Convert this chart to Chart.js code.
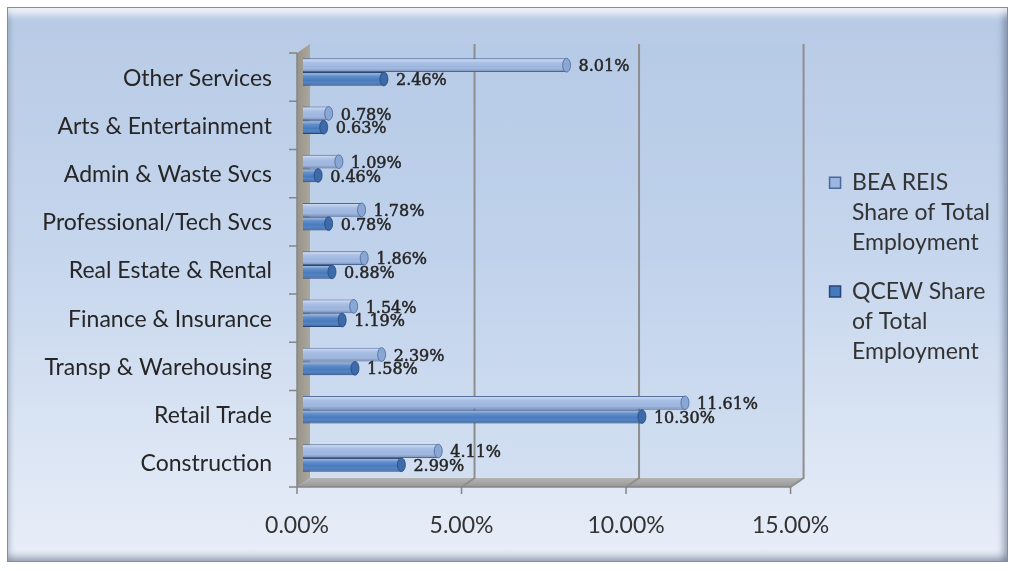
<!DOCTYPE html>
<html lang="en">
<head>
  <meta charset="UTF-8">
  <title>Share of Total Employment by Industry</title>
  <script src="https://cdn.jsdelivr.net/npm/chart.js"></script>
  <style>
    body {
      margin: 0;
      padding: 0;
      background: #fff;
    }

    .wrap {
      position: relative;
      width: 1010px;
      height: 571px;
    }

    .panel {
      position: absolute;
      left: 7px;
      top: 7px;
      width: 999px;
      height: 553px;
      border: 1px solid #8c8c8c;
      background: linear-gradient(to bottom, #b7cae5 0%, #c6d6ed 45%, #e8eef8 100%);
      box-shadow:
        inset 0 12px 8px -6px rgba(255, 255, 255, 0.85),
        inset -7px 0 6px -3px rgba(70, 85, 110, 0.45),
        inset 0 -8px 6px -3px rgba(70, 85, 110, 0.4),
        inset 5px 0 5px -3px rgba(70, 85, 110, 0.25);
    }

    canvas {
      position: absolute;
      left: 0;
      top: 0;
    }
  </style>
</head>
<body>
  <div class="wrap">
    <div class="panel"></div>
    <canvas id="shareChart" width="1010" height="571"></canvas>
  </div>

  <script>
    const categories = [
      'Other Services',
      'Arts & Entertainment',
      'Admin & Waste Svcs',
      'Professional/Tech Svcs',
      'Real Estate & Rental',
      'Finance & Insurance',
      'Transp & Warehousing',
      'Retail Trade',
      'Construction'
    ];
    const beaShare = [8.01, 0.78, 1.09, 1.78, 1.86, 1.54, 2.39, 11.61, 4.11];
    const qcewShare = [2.46, 0.63, 0.46, 0.78, 0.88, 1.19, 1.58, 10.30, 2.99];
    const seriesNames = ['BEA REIS Share of Total Employment', 'QCEW Share of Total Employment'];
    const legendLines = [
      ['BEA REIS', 'Share of Total', 'Employment'],
      ['QCEW Share', 'of Total', 'Employment']
    ];
    const axisMin = 0, axisMax = 15, axisStep = 5;

    // depth of the fake 3D box, relative to the plane the bars sit in
    const FRONT = { dx: -6, dy: 5 };
    const BACK = { dx: 7, dy: -4 };

    const pct = v => v.toFixed(2) + '%';

    // walls, floor and axis lines of the 3D plot box
    const box3d = {
      id: 'box3d',
      beforeDatasetsDraw(chart) {
        const { ctx, chartArea } = chart;
        const xs = chart.scales.x;
        const left = xs.getPixelForValue(axisMin);
        const right = xs.getPixelForValue(axisMax);
        const top = chartArea.top, bottom = chartArea.bottom;
        ctx.save();

        // back wall
        ctx.fillStyle = 'rgba(175,198,232,0.25)';
        ctx.fillRect(left + BACK.dx, top + BACK.dy, right - left, bottom - top);

        // floor
        const floor = ctx.createLinearGradient(0, bottom + BACK.dy, 0, bottom + FRONT.dy);
        floor.addColorStop(0, '#b4b4b4');
        floor.addColorStop(1, '#979797');
        ctx.fillStyle = floor;
        ctx.beginPath();
        ctx.moveTo(left + BACK.dx, bottom + BACK.dy);
        ctx.lineTo(right + BACK.dx, bottom + BACK.dy);
        ctx.lineTo(right + FRONT.dx, bottom + FRONT.dy);
        ctx.lineTo(left + FRONT.dx, bottom + FRONT.dy);
        ctx.closePath();
        ctx.fill();

        // side wall
        const side = ctx.createLinearGradient(left + FRONT.dx, 0, left + BACK.dx, 0);
        side.addColorStop(0, '#97938a');
        side.addColorStop(1, '#aca79c');
        ctx.fillStyle = side;
        ctx.beginPath();
        ctx.moveTo(left + FRONT.dx, top + FRONT.dy);
        ctx.lineTo(left + BACK.dx, top + BACK.dy);
        ctx.lineTo(left + BACK.dx, bottom + BACK.dy);
        ctx.lineTo(left + FRONT.dx, bottom + FRONT.dy);
        ctx.closePath();
        ctx.fill();

        // gridlines on the back wall, running down across the floor
        ctx.strokeStyle = '#8e8e8e';
        ctx.lineWidth = 2;
        xs.ticks.forEach(t => {
          if (t.value === axisMin) return;
          const px = xs.getPixelForValue(t.value);
          ctx.beginPath();
          ctx.moveTo(px + BACK.dx, top + BACK.dy);
          ctx.lineTo(px + BACK.dx, bottom + BACK.dy);
          ctx.lineTo(px + FRONT.dx, bottom + FRONT.dy);
          ctx.stroke();
        });

        // front axis lines and tick marks
        ctx.strokeStyle = '#858585';
        ctx.lineWidth = 1.5;
        ctx.beginPath();
        ctx.moveTo(left + FRONT.dx, top + FRONT.dy);
        ctx.lineTo(left + FRONT.dx, bottom + FRONT.dy);
        ctx.lineTo(right + FRONT.dx, bottom + FRONT.dy);
        ctx.stroke();

        const band = (bottom - top) / categories.length;
        ctx.beginPath();
        for (let i = 0; i <= categories.length; i++) {
          const py = top + i * band + FRONT.dy;
          ctx.moveTo(left + FRONT.dx - 8, py);
          ctx.lineTo(left + FRONT.dx, py);
        }
        xs.ticks.forEach(t => {
          const px = xs.getPixelForValue(t.value) + FRONT.dx;
          ctx.moveTo(px, bottom + FRONT.dy);
          ctx.lineTo(px, bottom + FRONT.dy + 7);
        });
        ctx.stroke();
        ctx.restore();
      }
    };

    // tube shading, rounded bar ends and the value labels
    const barDecor = {
      id: 'barDecor',
      afterDatasetsDraw(chart) {
        const { ctx } = chart;
        ctx.save();
        chart.data.datasets.forEach((ds, di) => {
          const meta = chart.getDatasetMeta(di);
          meta.data.forEach((el, i) => {
            const { x, y, base, height } = el.getProps(['x', 'y', 'base', 'height'], true);
            const t = y - height / 2;
            const shade = ctx.createLinearGradient(0, t, 0, t + height);
            shade.addColorStop(0, 'rgba(255,255,255,0.6)');
            shade.addColorStop(0.3, 'rgba(255,255,255,0.15)');
            shade.addColorStop(0.6, 'rgba(255,255,255,0)');
            shade.addColorStop(1, 'rgba(20,40,80,0.4)');
            ctx.fillStyle = shade;
            ctx.fillRect(base, t + 1, x - base, height - 2);

            // rounded end cap
            ctx.beginPath();
            ctx.ellipse(x, y, 4, height / 2, 0, 0, Math.PI * 2);
            ctx.fillStyle = ds.capColor;
            ctx.fill();
            ctx.strokeStyle = ds.borderColor;
            ctx.lineWidth = 0.8;
            ctx.stroke();

            const text = pct(ds.data[i]);
            ctx.font = '16px "DejaVu Serif"';
            ctx.fillStyle = '#262626';
            ctx.strokeStyle = '#262626';
            ctx.lineWidth = 0.5;
            ctx.textAlign = 'left';
            ctx.textBaseline = 'middle';
            ctx.fillText(text, x + 12, y + 2);
            ctx.strokeText(text, x + 12, y + 2);
          });
        });
        ctx.restore();
      }
    };

    // leave a gap between the 3D box and the legend
    const legendNudge = {
      id: 'legendNudge',
      afterLayout(chart) {
        const lg = chart.legend;
        lg.left += 14;
        lg.right += 14;
        lg.top -= 39;
        lg.bottom -= 39;
      }
    };

    const ctx = document.getElementById('shareChart').getContext('2d');
    new Chart(ctx, {
      type: 'bar',
      data: {
        labels: categories,
        datasets: [
          {
            label: seriesNames[0],
            data: beaShare,
            backgroundColor: '#9db6e0',
            borderColor: '#4a6899',
            capColor: '#8aa6d4',
            borderWidth: 1
          },
          {
            label: seriesNames[1],
            data: qcewShare,
            backgroundColor: '#467abf',
            borderColor: '#26477a',
            capColor: '#3d6aa8',
            borderWidth: 1
          }
        ]
      },
      options: {
        indexAxis: 'y',
        responsive: false,
        animation: false,
        categoryPercentage: 0.57,
        barPercentage: 1,
        layout: {
          padding: { left: 0, top: 48, right: 24, bottom: 0 }
        },
        scales: {
          x: {
            min: axisMin,
            max: axisMax,
            grid: { display: false, drawTicks: false },
            border: { display: false },
            ticks: {
              stepSize: axisStep,
              padding: 30,
              labelOffset: FRONT.dx,
              color: '#333',
              font: { family: 'Lato', size: 23 },
              callback: v => pct(v)
            },
            afterFit: s => { s.height = 89; }
          },
          y: {
            grid: { display: false, drawTicks: false },
            border: { display: false },
            ticks: {
              padding: 31,
              labelOffset: 6,
              color: '#262626',
              font: { family: 'Lato', size: 23 }
            },
            afterFit: s => { s.width = 303; }
          }
        },
        plugins: {
          tooltip: { enabled: false },
          legend: {
            position: 'right',
            labels: {
              boxWidth: 11,
              boxHeight: 11,
              padding: 19,
              color: '#333',
              font: { family: 'Lato', size: 23, lineHeight: 1.3 },
              generateLabels: chart => {
                const items = Chart.defaults.plugins.legend.labels.generateLabels(chart);
                items.forEach((it, i) => {
                  it.text = legendLines[i];
                  it.lineWidth = 1.5;
                });
                return items;
              }
            }
          }
        }
      },
      plugins: [box3d, barDecor, legendNudge]
    });
  </script>
</body>
</html>
